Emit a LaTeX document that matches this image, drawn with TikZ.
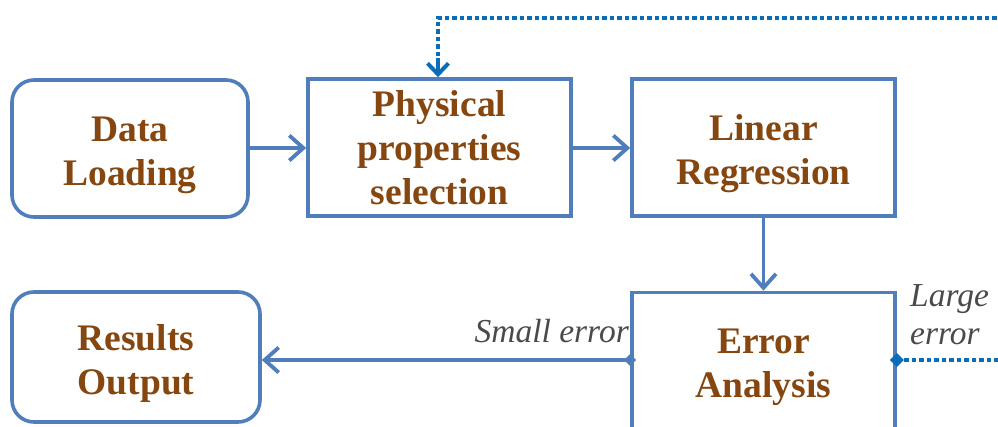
\documentclass[tikz,border=0pt]{standalone}
\usepackage{fontspec}
\setmainfont{Liberation Serif}
\usetikzlibrary{arrows.meta}
\definecolor{boxline}{HTML}{4F7EBB}
\definecolor{loopblue}{HTML}{0B6CB8}
\definecolor{titlebrown}{HTML}{864610}
\definecolor{notegray}{HTML}{4A4A4A}
% two centred lines, drawn a little low while keeping their box size
\newcommand{\pairtext}[3][-6pt]{\raisebox{#1}[\height][\depth]{\begin{tabular}{@{}c@{}}#2\\#3\end{tabular}}}
\tikzset{
  stagebox/.style={draw=boxline, line width=3.6pt, fill=white, align=center,
    font=\fontsize{37.5}{44}\selectfont\bfseries, text=titlebrown,
    minimum width=263pt, minimum height=137pt, inner sep=0pt},
  roundbox/.style={stagebox, rounded corners=22pt},
  barb/.tip={Straight Barb[length=14pt,width=25pt,line width=3.8pt]},
  flow/.style={draw=boxline, line width=3.6pt, -barb},
  loop/.style={draw=loopblue, line width=4.5pt, dash pattern=on 4.5pt off 3pt},
  note/.style={font=\fontsize{33.5}{38}\selectfont\itshape, text=notegray, align=left, inner sep=0pt}
}
\begin{document}
\begin{tikzpicture}[x=1pt,y=-1pt]
\useasboundingbox (0,0) rectangle (998,426);

% process stages
\node[roundbox, minimum width=236pt] (data) at (130,148.5) {\pairtext{Data}{Loading}};
\node[stagebox] (phys) at (439.5,147.5) {Physical\\properties\\selection};
\node[stagebox] (lin) at (763.5,147.5) {\pairtext{Linear}{Regression}};
\node[stagebox] (err) at (763.5,361) {\pairtext{Error}{Analysis}};
\node[roundbox, minimum width=248pt, minimum height=130pt] (res) at (136,357) {\pairtext[-7pt]{Results}{Output}};

% main flow
\draw[flow] (data.east |- 0,148) -- (phys.west |- 0,148);
\draw[flow] (phys.east |- 0,148) -- (lin.west |- 0,148);
\draw[flow] (lin.south) -- (err.north);

% small error: report results
\coordinate (smallstart) at (err.west |- 0,360);
\fill[boxline] (smallstart) ++(-6,0) -- ++(6,-6) -- ++(6,6) -- ++(-6,6) -- cycle;
\draw[flow] (smallstart) -- (res.east |- 0,360);
\node[note, anchor=base east] (smalllbl) at (629,342) {Small error};

% large error: back to property selection
\coordinate (largestart) at (err.east |- 0,360);
\coordinate (loopright) at (1012,360);
\coordinate (looptop) at (1012,18);
\coordinate (loopcorner) at (438,18);
\fill[loopblue] (largestart) ++(-7,0) -- ++(7,-7) -- ++(7,7) -- ++(-7,7) -- cycle;
\draw[loop] (largestart) -- (loopright) -- (looptop) -- (loopcorner) -- (438,62);
\draw[loopblue, line width=4pt, -{Straight Barb[length=11pt,width=21pt,line width=4pt]}]
  (438,58) -- (loopcorner |- phys.north);
\node[note, anchor=base west] (largelbl) at (910,344) {Large\\error};
\end{tikzpicture}
\end{document}
